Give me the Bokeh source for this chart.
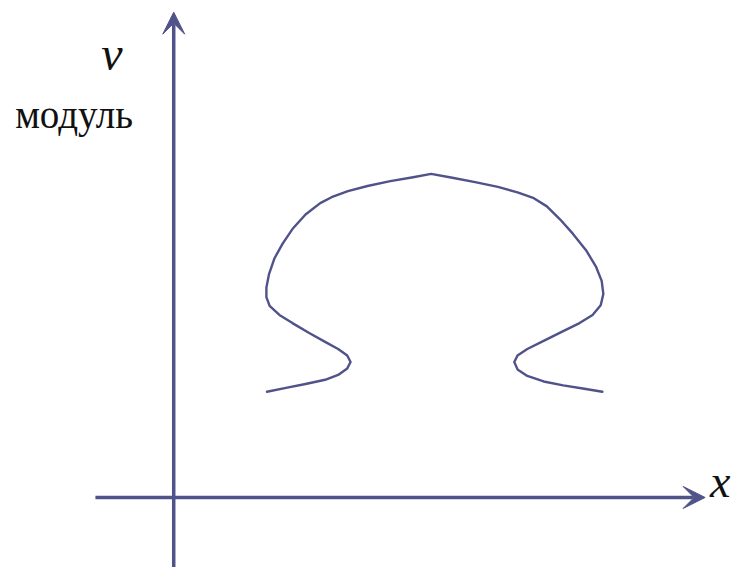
from bokeh.plotting import figure
from bokeh.models import Range1d, Arrow, VeeHead
from bokeh.core.properties import value
from bokeh.embed import file_html
from bokeh.resources import INLINE

# curve values (x, v) measured from the axes' origin
curve_x = [95.3, 114.7, 134.7, 154.7, 168.0, 177.3, 180.7, 177.3, 168.0, 154.7,
           138.0, 121.3, 108.0, 98.0, 94.7, 94.7, 97.3, 103.0, 111.3, 121.3,
           134.7, 149.7, 161.3, 178.0, 198.0, 221.3, 244.7, 263.0,
           284.7, 308.0, 331.3, 351.3, 368.0, 381.3, 394.7, 408.0, 421.3, 431.3,
           437.3, 439.0, 436.3, 428.0, 414.7, 398.0, 378.0, 361.3, 351.3, 348.0,
           351.3, 361.3, 378.0, 398.0, 418.0, 438.0]
curve_v = [108.7, 112.7, 116.7, 121.0, 126.0, 132.7, 139.3, 146.0, 152.7, 160.0,
           169.3, 179.3, 187.7, 197.0, 206.0, 216.0, 229.3, 246.0, 261.0, 276.0,
           291.0, 302.7, 308.7, 315.0, 320.3, 325.3, 329.3, 332.7,
           328.7, 324.3, 319.3, 313.7, 307.7, 299.3, 286.0, 271.0, 254.3, 237.7,
           222.7, 209.3, 197.7, 187.7, 179.3, 171.0, 161.0, 152.7, 146.0, 139.3,
           131.7, 125.0, 119.3, 115.3, 112.0, 108.7]

y_label = "v"
y_sublabel = "модуль"
x_label = "x"

COL = "#50528a"

p = figure(width=733, height=567, output_backend="svg", toolbar_location=None,
           x_range=Range1d(-177, 572), y_range=Range1d(-72, 511),
           min_border=0, outline_line_color=None, background_fill_color="white",
           border_fill_color="white")
p.axis.visible = False
p.grid.visible = False

# axes with arrow heads
p.add_layout(Arrow(x_start=0, y_start=-90, x_end=0, y_end=499,
                   line_color=COL, line_width=3.5,
                   end=VeeHead(size=22, fill_color=COL, line_color=COL, line_width=1)))
p.add_layout(Arrow(x_start=-80, y_start=0, x_end=543, y_end=0,
                   line_color=COL, line_width=3.5,
                   end=VeeHead(size=22, fill_color=COL, line_color=COL, line_width=1)))

p.line(curve_x, curve_v, line_color=COL, line_width=2.4, line_join="round", line_cap="round")

p.text(x=[-74], y=[456], text=[y_label], text_font=value("Liberation Serif"),
       text_font_style="italic", text_font_size="48px", text_color="#111111",
       text_baseline="alphabetic", text_align="left")
p.text(x=[-162], y=[394], text=[y_sublabel], text_font=value("Liberation Serif"),
       text_font_size="39px", text_color="#111111",
       text_baseline="alphabetic", text_align="left")
p.text(x=[548], y=[16], text=[x_label], text_font=value("Liberation Serif"),
       text_font_style="italic", text_font_size="46px", text_color="#111111",
       text_baseline="alphabetic", text_align="left")

open("out.html", "w").write(file_html(p, INLINE))
